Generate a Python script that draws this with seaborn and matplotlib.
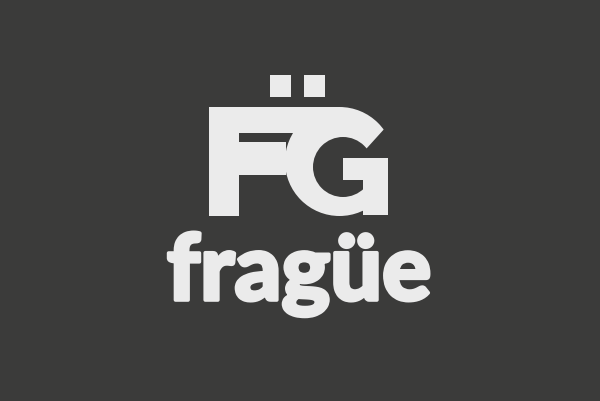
import matplotlib
matplotlib.use('Agg')
import matplotlib.pyplot as plt
import matplotlib.patheffects as pe
import seaborn as sns
from matplotlib.patches import Rectangle, Circle, Polygon

# ── Colours ──────────────────────────────────────────────────────────────────
BG    = '#3b3b3a'
LIGHT = '#ebebeb'

# ── Logo geometry (pixel coords, y down) ─────────────────────────────────────
# F: stem, top bar, middle bar  -> (x0, y0, x1, y1)
F_BARS = [(209, 107, 239, 216),
          (209, 107, 340, 133),
          (209, 142, 286, 175)]
# umlaut dots
DOTS = [(270, 75, 291, 97),
        (304, 75, 325, 97)]
# G: outer disc, inner counter (cx, cy, r)
G_OUTER = (339.5, 161.5, 54.5)
G_INNER = (343.0, 167.0, 30.0)
# G opening on the right (dark) and right clip
G_OPEN = [(343, 167), (367, 148), (405, 106), (405, 170), (343, 170)]
G_CLIP = (388, 150, 405, 225)
# G crossbar and spur
G_BARS = [(343, 158, 388, 180),
          (363, 158, 388, 215)]

WORD = 'fragüe'
WORD_POS = (299, 300)

sns.set_theme(style='white', rc={'figure.facecolor': BG, 'axes.facecolor': BG})
plt.rcParams['font.family'] = ['Lato', 'DejaVu Sans']

fig = plt.figure(figsize=(6.0, 4.01), dpi=100)
ax = fig.add_axes([0, 0, 1, 1])
ax.set_xlim(0, 600)
ax.set_ylim(401, 0)
ax.axis('off')


def rect(b, color):
    x0, y0, x1, y1 = b
    ax.add_patch(Rectangle((x0, y0), x1 - x0, y1 - y0, color=color, lw=0))


# G body
ax.add_patch(Circle(G_OUTER[:2], G_OUTER[2], color=LIGHT, lw=0))
ax.add_patch(Circle(G_INNER[:2], G_INNER[2], color=BG, lw=0))
ax.add_patch(Polygon(G_OPEN, closed=True, color=BG, lw=0))
rect(G_CLIP, BG)
for b in G_BARS:
    rect(b, LIGHT)

# F and dots
for b in F_BARS + DOTS:
    rect(b, LIGHT)

ax.text(WORD_POS[0], WORD_POS[1], WORD, color=LIGHT, fontsize=66,
        fontweight='black', ha='center', va='baseline',
        path_effects=[pe.withStroke(linewidth=2.6, foreground=LIGHT)])

fig.savefig('out.png', dpi=100, facecolor=BG)
